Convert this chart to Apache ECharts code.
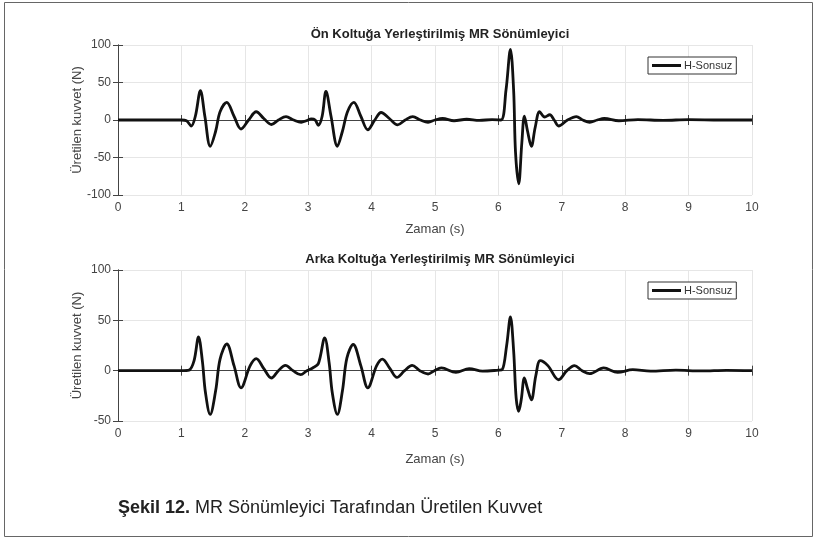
<!DOCTYPE html>
<html>
<head>
<meta charset="utf-8">
<script src="https://cdn.jsdelivr.net/npm/echarts@6/dist/echarts.min.js"></script>
<style>
  html, body { margin: 0; padding: 0; background: #fff; }
  #chart { width: 817px; height: 540px; }
</style>
</head>
<body>
<div id="chart"></div>
<script>
// values
const frontTime = [0, 1.0, 1.08, 1.155, 1.22, 1.30, 1.37, 1.455, 1.54, 1.61, 1.715, 1.83, 1.94, 2.06, 2.18, 2.30, 2.42, 2.53, 2.65, 2.77, 2.89, 2.97, 3.05, 3.11, 3.16, 3.22, 3.28, 3.36, 3.46, 3.54, 3.62, 3.72, 3.83, 3.94, 4.05, 4.15, 4.28, 4.41, 4.53, 4.65, 4.77, 4.89, 5.0, 5.12, 5.3, 5.5, 5.7, 5.9, 6.04, 6.12, 6.19, 6.24, 6.27, 6.32, 6.37, 6.41, 6.46, 6.52, 6.58, 6.65, 6.73, 6.81, 6.88, 6.95, 7.09, 7.23, 7.33, 7.44, 7.56, 7.67, 7.9, 8.2, 8.6, 9.0, 9.5, 10];
const frontForce = [0, 0, -1, -8, 5, 39, 5, -35, -15, 11, 23.5, 5, -12, 0, 11, 2, -6, 0, 4.5, 0, -3, -1, 1.5, 0, -7, 5, 38, 5, -35, -15, 11, 23.5, 5, -13, 0, 10, 2, -6.5, 0, 4.5, 0, -3, 0, 2, -1, 1, -0.5, 0.5, 0, 40, 94, 40, -43, -85, -30, 5, -15, -35, -10, 11, 4, 7, 0, -8, 0, 4.5, 0, -3, 0, 2, -1, 0.5, -0.5, 0.5, 0, 0];

const rearTime = [0, 1.0, 1.12, 1.20, 1.27, 1.33, 1.38, 1.454, 1.54, 1.61, 1.716, 1.83, 1.94, 2.085, 2.18, 2.30, 2.42, 2.53, 2.64, 2.76, 2.88, 2.98, 3.07, 3.16, 3.26, 3.33, 3.38, 3.46, 3.54, 3.61, 3.71, 3.83, 3.94, 4.08, 4.17, 4.29, 4.40, 4.52, 4.64, 4.76, 4.89, 4.99, 5.10, 5.33, 5.54, 5.75, 6.0, 6.06, 6.13, 6.19, 6.24, 6.28, 6.32, 6.36, 6.41, 6.46, 6.52, 6.59, 6.66, 6.78, 6.95, 7.08, 7.20, 7.32, 7.44, 7.66, 7.88, 8.12, 8.4, 8.8, 9.2, 9.6, 10];
const rearForce = [0, 0, 0.5, 10, 33.5, 10, -22, -43.5, -20, 11.5, 26.5, 5, -17, 5, 12, 2, -7.3, 0, 5.3, 0, -4, 0, 2.7, 7, 32.5, 8, -22, -43.5, -20, 12.5, 26, 5, -17, 5, 11.5, 2, -6.7, 0, 5.3, 0, -3.3, 0, 2.7, -1.7, 2, -0.5, 0.5, 1, 25, 53.3, 20, -27, -40.4, -29, -7.3, -18, -29, -5, 10, 5, -9, 0, 5, 0, -3, 2.7, -1.7, 1, -0.5, 0.5, -0.3, 0.3, 0];

const titles = ['Ön Koltuğa Yerleştirilmiş MR Sönümleyici', 'Arka Koltuğa Yerleştirilmiş MR Sönümleyici'];
const seriesName = 'H-Sonsuz';
const xLabel = 'Zaman (s)';
const yLabel = 'Üretilen kuvvet (N)';
const yRanges = [[-100, 100], [-50, 100]];

const font = "'Liberation Sans', Arial, sans-serif";
const chart = echarts.init(document.getElementById('chart'));

const grids = [
  { left: 118, width: 634, top: 45, height: 150 },
  { left: 118, width: 634, top: 270, height: 151 }
];
const xNameGaps = [28, 32];

const xAxes = [];
const yAxes = [];
grids.forEach((g, i) => {
  // bottom axis with labels
  xAxes.push({
    gridIndex: i, type: 'value', min: 0, max: 10, interval: 1,
    name: xLabel, nameLocation: 'middle', nameGap: xNameGaps[i], nameMoveOverlap: false,
    nameTextStyle: { fontFamily: font, fontSize: 13, color: '#444' },
    axisLine: { show: true, lineStyle: { color: '#444' } },
    axisTick: { show: true, inside: true, length: 5, lineStyle: { color: '#444' } },
    axisLabel: { fontFamily: font, fontSize: 12, color: '#444', margin: 7 },
    splitLine: { show: true, lineStyle: { color: '#e6e6e6' } }
  });
  // top axis, ticks only
  xAxes.push({
    gridIndex: i, type: 'value', position: 'top', min: 0, max: 10, interval: 1,
    axisLine: { show: true, lineStyle: { color: '#444' } },
    axisTick: { show: true, inside: true, length: 5, lineStyle: { color: '#444' } },
    axisLabel: { show: false }, splitLine: { show: false }
  });
  yAxes.push({
    gridIndex: i, type: 'value', min: yRanges[i][0], max: yRanges[i][1], interval: 50,
    name: yLabel, nameLocation: 'middle', nameGap: 34, nameMoveOverlap: false,
    nameTextStyle: { fontFamily: font, fontSize: 13, color: '#444' },
    axisLine: { show: true, lineStyle: { color: '#444' } },
    axisTick: { show: true, inside: true, length: 5, lineStyle: { color: '#444' } },
    axisLabel: { fontFamily: font, fontSize: 12, color: '#444', margin: 7 },
    splitLine: { show: true, lineStyle: { color: '#e6e6e6' } }
  });
  yAxes.push({
    gridIndex: i, type: 'value', position: 'right', min: yRanges[i][0], max: yRanges[i][1], interval: 50,
    axisLine: { show: true, lineStyle: { color: '#444' } },
    axisTick: { show: true, inside: true, length: 5, lineStyle: { color: '#444' } },
    axisLabel: { show: false }, splitLine: { show: false }
  });
});

const legendBase = {
  data: [seriesName], left: 648, icon: 'rect', itemWidth: 29, itemHeight: 3, itemGap: 4,
  padding: [3, 4, 3, 4], borderColor: '#333', borderWidth: 1, backgroundColor: '#fff',
  itemStyle: { color: '#111' },
  textStyle: { fontFamily: font, fontSize: 11, color: '#333', padding: [0, 0, 0, -2] }
};

const option = {
  animation: false,
  backgroundColor: '#fff',
  title: [
    { text: titles[0], left: 435, top: 23, textAlign: 'center',
      textStyle: { fontFamily: font, fontSize: 13, fontWeight: 'bold', color: '#222' } },
    { text: titles[1], left: 435, top: 248, textAlign: 'center',
      textStyle: { fontFamily: font, fontSize: 13, fontWeight: 'bold', color: '#222' } },
    { text: '{b|Şekil 12.} {n|MR Sönümleyici Tarafından Üretilen Kuvvet}', left: 113, top: 494,
      textStyle: { fontWeight: 'normal', rich: {
        b: { fontFamily: font, fontSize: 18, fontWeight: 'bold', color: '#222' },
        n: { fontFamily: font, fontSize: 18, fontWeight: 'normal', color: '#222' }
      } } }
  ],
  legend: [
    Object.assign({}, legendBase, { top: 57 }),
    Object.assign({}, legendBase, { top: 282 })
  ],
  grid: grids,
  xAxis: xAxes,
  yAxis: yAxes,
  graphic: [
    { type: 'rect', shape: { x: 4.5, y: 2.5, width: 808, height: 534 },
      style: { fill: 'none', stroke: '#666', lineWidth: 1 }, silent: true }
  ],
  series: [
    { name: seriesName, type: 'line', xAxisIndex: 0, yAxisIndex: 0,
      data: frontTime.map((t, i) => [t, frontForce[i]]),
      symbol: 'none', smooth: 0.35, lineStyle: { width: 2.8, color: '#111' }, itemStyle: { color: '#111' } },
    { name: seriesName, type: 'line', xAxisIndex: 2, yAxisIndex: 2,
      data: rearTime.map((t, i) => [t, rearForce[i]]),
      symbol: 'none', smooth: 0.35, lineStyle: { width: 2.8, color: '#111' }, itemStyle: { color: '#111' } }
  ]
};

chart.setOption(option);
</script>
</body>
</html>
